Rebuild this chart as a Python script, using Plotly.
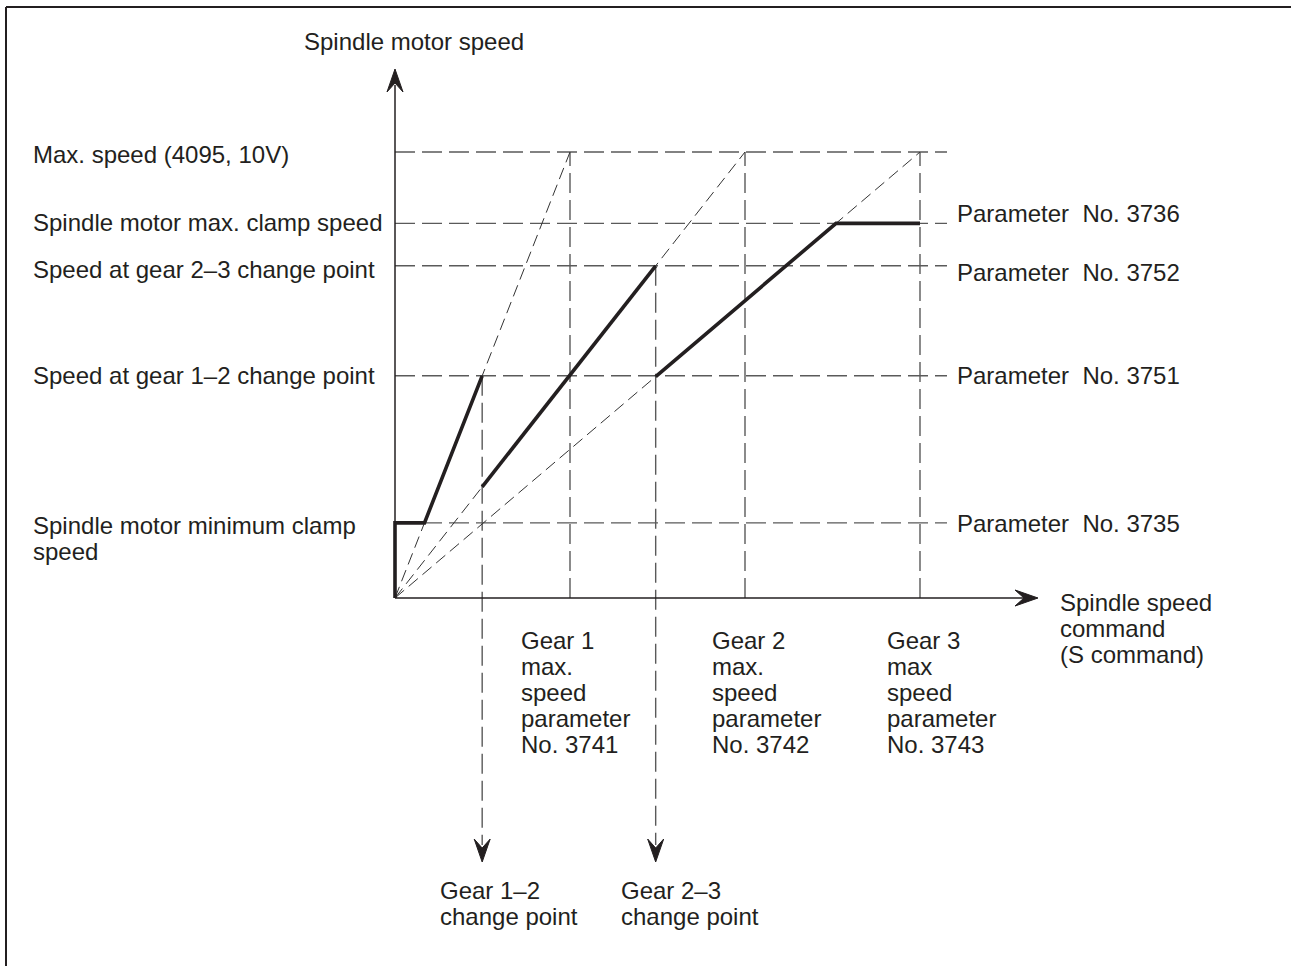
import plotly.graph_objects as go

# S command at which each gear reaches max. speed (parameters No. 3741-3743)
gear_max_cmd = [1000, 2000, 3000]
gear_names = ["Gear 1", "Gear 2", "Gear 3"]
gear_max_word = ["max.", "max.", "max"]
gear_params = ["No. 3741", "No. 3742", "No. 3743"]

# spindle motor speed levels
max_speed = 4095      # 4095, 10V
max_clamp = 3440      # No. 3736
speed_cp23 = 3050     # No. 3752
speed_cp12 = 2040     # No. 3751
min_clamp = 690       # No. 3735

level_values = [max_speed, max_clamp, speed_cp23, speed_cp12, min_clamp]
level_names = ["Max. speed (4095, 10V)", "Spindle motor max. clamp speed",
               "Speed at gear 2\u20133 change point", "Speed at gear 1\u20132 change point"]
level_params = ["Parameter  No. 3736", "Parameter  No. 3752",
                "Parameter  No. 3751", "Parameter  No. 3735"]

W, H = 1299, 966
X0, Y0 = 395, 598          # origin, page pixels
SX = 0.175                 # px per S-command unit
SY = 446 / max_speed       # px per speed unit

INK = "#231f20"
GRID = "#5a5a5a"
FONT = dict(family="Liberation Sans, Arial, Helvetica, sans-serif", size=24, color=INK)


def dx(px):
    return (px - X0) / SX


def dy(py):
    return (Y0 - py) / SY


# change points follow from the speed at which each gear hands over
cp12 = speed_cp12 / max_speed * gear_max_cmd[0]
cp23 = speed_cp23 / max_speed * gear_max_cmd[1]


def gear_speed(cmd, g):
    return max_speed * cmd / gear_max_cmd[g]


x_min_clamp = min_clamp / max_speed * gear_max_cmd[0]
x_max_clamp = max_clamp / max_speed * gear_max_cmd[2]
x_guide_end = gear_max_cmd[2] + dx(X0 + 27)

fig = go.Figure()

# dashed horizontal guides
hx, hy = [], []
for v in level_values:
    hx += [0, x_guide_end, None]
    hy += [v, v, None]
# dashed vertical guides at gear max
for g in gear_max_cmd:
    hx += [g, g, None]
    hy += [0, max_speed, None]
# change point verticals running down to the arrows
for cp, sp in [(cp12, speed_cp12), (cp23, speed_cp23)]:
    hx += [cp, cp, None]
    hy += [sp, dy(845), None]
fig.add_trace(go.Scatter(x=hx, y=hy, mode="lines",
                         line=dict(color=GRID, width=1.4, dash="20px,7px"),
                         hoverinfo="skip"))

# dashed diagonal gear ratio lines
dxs, dys = [], []
for g in gear_max_cmd:
    dxs += [0, g, None]
    dys += [0, max_speed, None]
fig.add_trace(go.Scatter(x=dxs, y=dys, mode="lines",
                         line=dict(color="#333333", width=1.0, dash="12px,6px"),
                         hoverinfo="skip"))

# actual spindle motor speed
sx = [0, 0, x_min_clamp, cp12, None,
      cp12, cp23, None,
      cp23, x_max_clamp, gear_max_cmd[2]]
sy = [0, min_clamp, min_clamp, gear_speed(cp12, 0), None,
      gear_speed(cp12, 1), gear_speed(cp23, 1), None,
      gear_speed(cp23, 2), max_clamp, max_clamp]
fig.add_trace(go.Scatter(x=sx, y=sy, mode="lines",
                         line=dict(color=INK, width=3.6), hoverinfo="skip"))

shapes = []
# axes
shapes.append(dict(type="line", x0=0, y0=0, x1=0, y1=dy(85),
                   line=dict(color=INK, width=1.5)))
shapes.append(dict(type="line", x0=0, y0=0, x1=dx(1028), y1=0,
                   line=dict(color=INK, width=1.5)))


def head(xa, ya, path):
    return dict(type="path", xref="x", yref="y", xsizemode="pixel", ysizemode="pixel",
                xanchor=xa, yanchor=ya, path=path,
                fillcolor=INK, line=dict(color=INK, width=1))


shapes.append(head(0, dy(69), "M0,0 L-8,-23 L0,-14 L8,-23 Z"))
shapes.append(head(dx(1038), 0, "M0,0 L-23,8 L-14,0 L-23,-8 Z"))
shapes.append(head(cp12, dy(862), "M0,0 L-8,23 L0,14 L8,23 Z"))
shapes.append(head(cp23, dy(862), "M0,0 L-8,23 L0,14 L8,23 Z"))


def px_x(px):
    return px / W


def px_y(py):
    return 1 - py / H


# frame
shapes.append(dict(type="line", xref="paper", yref="paper",
                   x0=px_x(6), y0=px_y(7), x1=px_x(1291), y1=px_y(7),
                   line=dict(color=INK, width=2)))
shapes.append(dict(type="line", xref="paper", yref="paper",
                   x0=px_x(6), y0=px_y(7), x1=px_x(6), y1=0,
                   line=dict(color=INK, width=2)))

ann = []


def text(t, px, py):
    ann.append(dict(text=t, x=px_x(px - 3), y=px_y(py), xref="paper", yref="paper",
                    xanchor="left", yanchor="middle", showarrow=False, font=FONT))


text("Spindle motor speed", 305, 42)

left_py = [155, 222, 269, 376]
for name, py in zip(level_names, left_py):
    text(name, 34, py)
text("Spindle motor minimum clamp", 34, 525)
text("speed", 34, 551)

right_py = [213, 273, 376, 523]
for p, py in zip(level_params, right_py):
    text(p, 958, py)

for i, line in enumerate(["Spindle speed", "command", "(S command)"]):
    text(line, 1061, 602 + 26 * i)

gear_label_px = [522, 713, 888]
for g in range(3):
    lines = [gear_names[g], gear_max_word[g], "speed", "parameter", gear_params[g]]
    for i, line in enumerate(lines):
        text(line, gear_label_px[g], 640 + 26 * i)

text("Gear 1\u20132", 441, 890)
text("change point", 441, 916)
text("Gear 2\u20133", 622, 890)
text("change point", 622, 916)

fig.update_layout(
    width=W, height=H,
    margin=dict(l=0, r=0, t=0, b=0),
    plot_bgcolor="white", paper_bgcolor="white",
    showlegend=False,
    xaxis=dict(range=[dx(0), dx(W)], visible=False, fixedrange=True),
    yaxis=dict(range=[dy(H), dy(0)], visible=False, fixedrange=True),
    shapes=shapes,
    annotations=ann,
)

fig.write_html("out.html", config=dict(displayModeBar=False),
               post_script="document.body.style.margin='0';document.body.style.overflow='hidden';")
